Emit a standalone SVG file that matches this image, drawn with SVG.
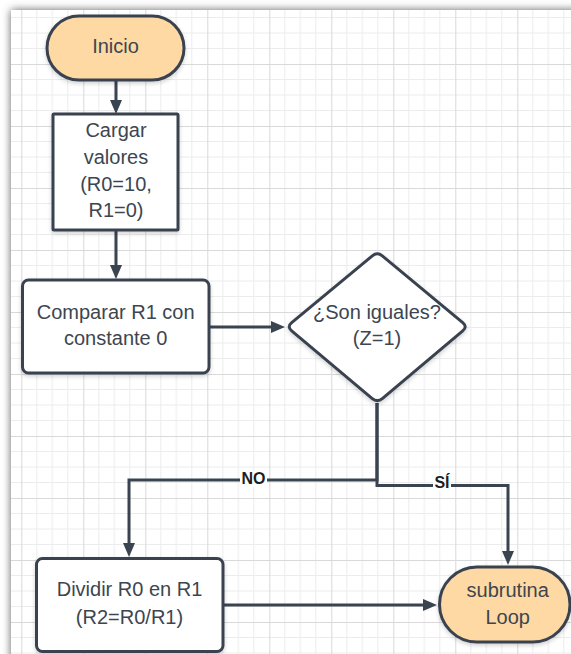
<svg xmlns="http://www.w3.org/2000/svg" width="571" height="654" viewBox="0 0 571 654">
<defs>
<style>
.shape{stroke:#3a4350;stroke-width:3;filter:url(#sh)}
.term{fill:#fed9a3}
.proc{fill:#ffffff}
.txt{font-family:"Liberation Sans",Arial,sans-serif;font-size:20px;fill:#3d4650;text-anchor:middle}
.lbl{font-family:"Liberation Sans",Arial,sans-serif;font-size:16px;font-weight:bold;fill:#1e1e1e;text-anchor:middle}
.conn{fill:none;stroke:#3a4350;stroke-width:3}
</style>
<pattern id="grid" patternUnits="userSpaceOnUse" x="21.3" y="2" width="62" height="62">
<path d="M15.5,0V62M31,0V62M46.5,0V62M0,15.5H62M0,31H62M0,46.5H62" stroke="#ececec" stroke-width="1" fill="none"/>
<path d="M0.5,0V62M0,0.5H62" stroke="#d9d9d9" stroke-width="1" fill="none"/>
</pattern>
<filter id="page" x="-10%" y="-10%" width="120%" height="120%">
<feGaussianBlur stdDeviation="4"/>
</filter>
<filter id="sh" x="-20%" y="-20%" width="140%" height="140%">
<feDropShadow dx="0" dy="2" stdDeviation="2" flood-color="#000" flood-opacity="0.18"/>
</filter>
<marker id="arr" viewBox="0 0 14 12" refX="8" refY="6" markerWidth="14" markerHeight="12" markerUnits="userSpaceOnUse" orient="auto">
<path d="M0,0L14,6L0,12z" fill="#3a4350"/>
</marker>
</defs>
<rect x="0" y="0" width="571" height="654" fill="#ffffff"/>
<rect x="11" y="10" width="620" height="700" fill="#606060" filter="url(#page)"/>
<rect x="11" y="10" width="620" height="700" fill="#ffffff"/>
<rect x="11" y="10" width="620" height="700" fill="url(#grid)"/>

<g id="connectors">
<path class="conn" d="M116,80V108" marker-end="url(#arr)"/>
<path class="conn" d="M116,230V273" marker-end="url(#arr)"/>
<path class="conn" d="M209,327H279" marker-end="url(#arr)"/>
<path class="conn" d="M377,403V480H129V551" marker-end="url(#arr)"/>
<path class="conn" d="M377,403V485.5H508V559" marker-end="url(#arr)"/>
<path class="conn" d="M223,605H431" marker-end="url(#arr)"/>
<rect x="240" y="471" width="27" height="16" fill="#ffffff"/>
<text class="lbl" x="253.5" y="483.8">NO</text>
<rect x="433" y="475" width="18" height="16" fill="#ffffff"/>
<text class="lbl" x="442" y="488">SÍ</text>
</g>

<g id="inicio">
<rect class="shape term" x="47" y="16" width="137" height="64" rx="32" ry="32"/>
<text class="txt" x="115.5" y="52.5">Inicio</text>
</g>

<g id="cargar">
<rect class="shape proc" x="53" y="114" width="125" height="116" rx="1"/>
<text class="txt" x="116" y="137">Cargar</text>
<text class="txt" x="116" y="164">valores</text>
<text class="txt" x="116" y="191">(R0=10,</text>
<text class="txt" x="116" y="217">R1=0)</text>
</g>

<g id="comparar">
<rect class="shape proc" x="22.5" y="280" width="186.5" height="93" rx="6"/>
<text class="txt" x="115.7" y="318.7">Comparar R1 con</text>
<text class="txt" x="115.7" y="345.3">constante 0</text>
</g>

<g id="decision">
<path class="shape proc" d="M372.3,255.8Q377.3,251.7 382.3,255.8L462.7,322.6Q467.7,326.7 462.7,330.8L382.3,398.6Q377.3,402.7 372.3,398.6L291.7,330.8Q286.7,326.7 291.7,322.6Z"/>
<text class="txt" x="377" y="318.7">¿Son iguales?</text>
<text class="txt" x="377" y="345.3">(Z=1)</text>
</g>

<g id="dividir">
<rect class="shape proc" x="36.5" y="558.5" width="186.5" height="93" rx="6"/>
<text class="txt" x="129.5" y="596">Dividir R0 en R1</text>
<text class="txt" x="129.5" y="623.5">(R2=R0/R1)</text>
</g>

<g id="subrutina">
<rect class="shape term" x="439.5" y="567" width="130.5" height="75" rx="37.5" ry="37.5"/>
<text class="txt" x="507.7" y="597">subrutina</text>
<text class="txt" x="507.7" y="624">Loop</text>
</g>
</svg>
